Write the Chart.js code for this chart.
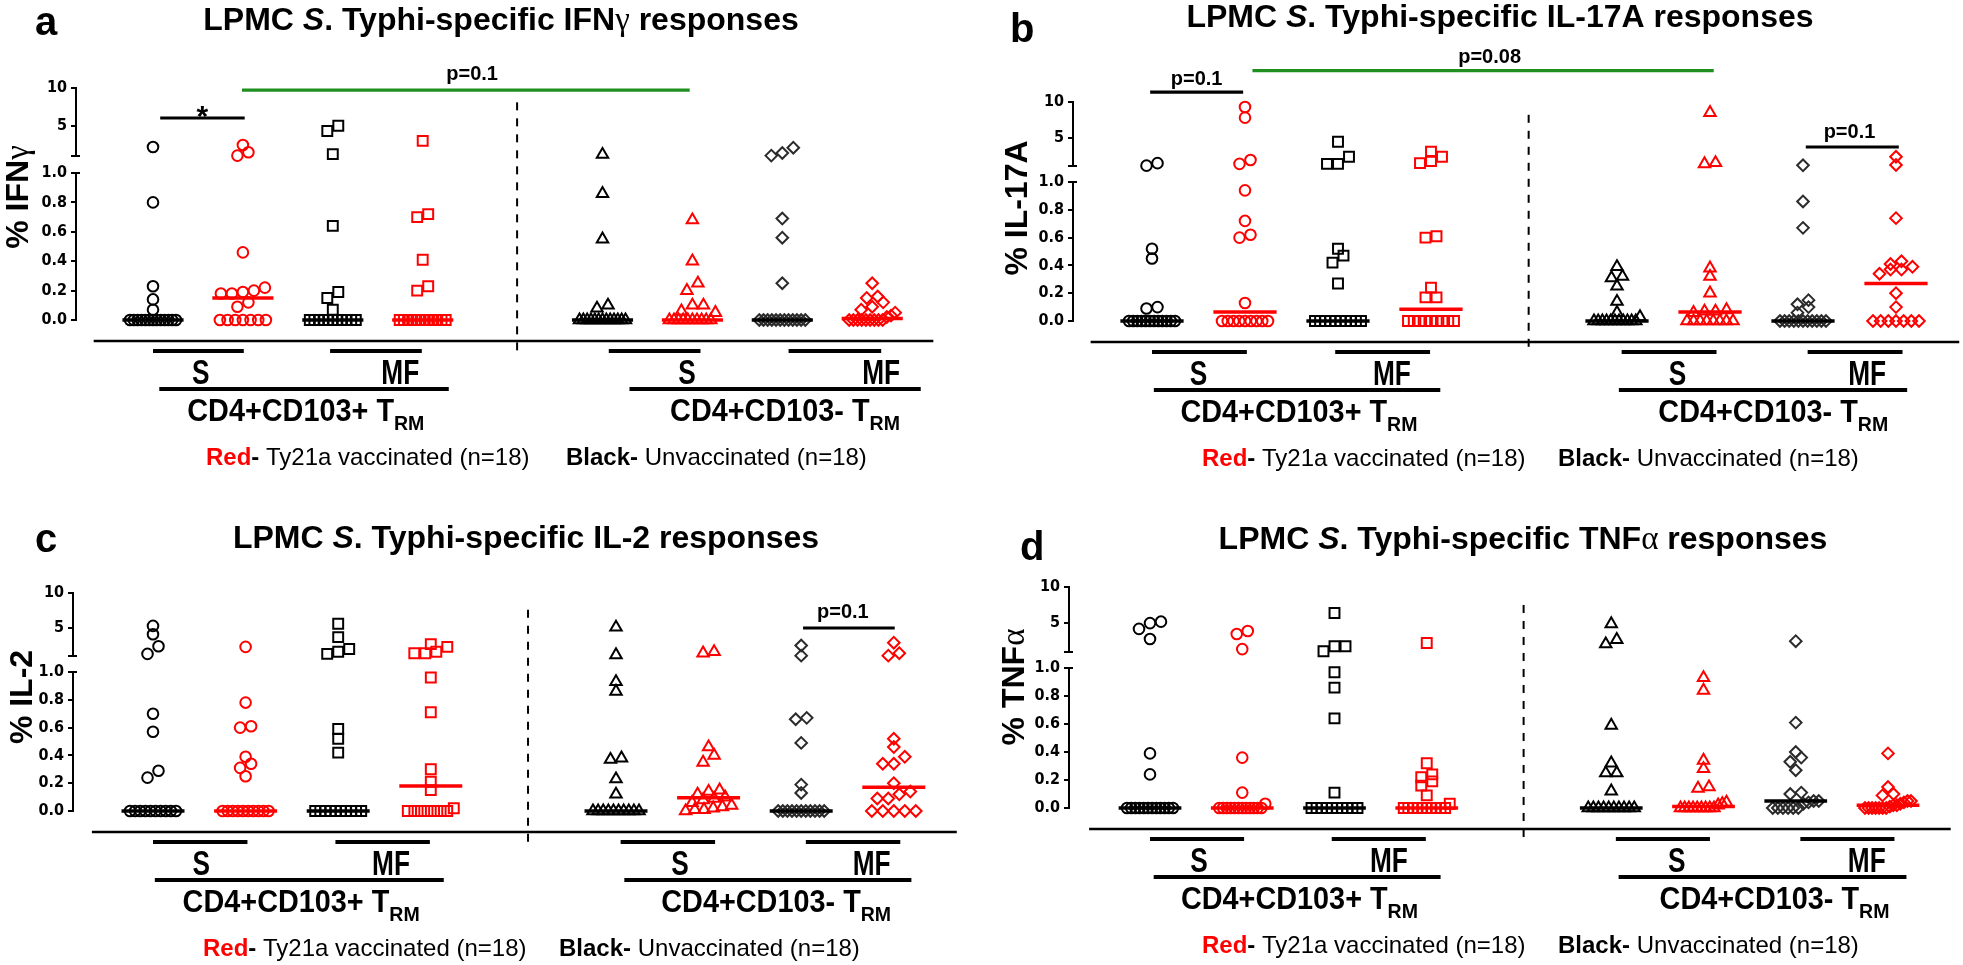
<!DOCTYPE html>
<html>
<head>
<meta charset="utf-8">
<script src="https://cdn.jsdelivr.net/npm/chart.js@4.4.1/dist/chart.umd.min.js"></script>
<style>
  html, body { margin: 0; padding: 0; background: #fff; }
  #fig { position: relative; width: 1963px; height: 965px; overflow: hidden; }
  .panel { position: absolute; }
  canvas { display: block; }
</style>
</head>
<body>
<div id="fig">
  <div class="panel" style="left:0;top:0"><canvas id="cA" width="980" height="480"></canvas></div>
  <div class="panel" style="left:980px;top:0"><canvas id="cB" width="983" height="480"></canvas></div>
  <div class="panel" style="left:0;top:480px"><canvas id="cC" width="980" height="485"></canvas></div>
  <div class="panel" style="left:980px;top:480px"><canvas id="cD" width="983" height="485"></canvas></div>
</div>
<script>
"use strict";

// ---- data: % cytokine+ cells, 18 subjects per group ----
// IFN-gamma
const ifngS103pUnvac  = [2.2, 0.8, 0.23, 0.14, 0.07, 0, 0, 0, 0, 0, 0, 0, 0, 0, 0, 0, 0, 0];
const ifngS103pVac    = [2.45, 1.5, 1.05, 0.46, 0.22, 0.2, 0.19, 0.18, 0.18, 0.12, 0.09, 0, 0, 0, 0, 0, 0, 0];
const ifngMF103pUnvac = [5.0, 4.3, 1.25, 0.64, 0.19, 0.15, 0.07, 0, 0, 0, 0, 0, 0, 0, 0, 0, 0, 0];
const ifngMF103pVac   = [3.0, 0.72, 0.7, 0.41, 0.23, 0.2, 0, 0, 0, 0, 0, 0, 0, 0, 0, 0, 0, 0];
const ifngS103nUnvac  = [1.2, 0.86, 0.55, 0.1, 0.08, 0, 0, 0, 0, 0, 0, 0, 0, 0, 0, 0, 0, 0];
const ifngS103nVac    = [0.68, 0.4, 0.25, 0.2, 0.1, 0.1, 0.06, 0.05, 0, 0, 0, 0, 0, 0, 0, 0, 0, 0];
const ifngMF103nUnvac = [2.1, 1.4, 1.05, 0.69, 0.56, 0.25, 0, 0, 0, 0, 0, 0, 0, 0, 0, 0, 0, 0];
const ifngMF103nVac   = [0.25, 0.16, 0.15, 0.12, 0.09, 0.07, 0.05, 0.03, 0.02, 0, 0, 0, 0, 0, 0, 0, 0, 0];
// IL-17A
const il17S103pUnvac  = [1.4, 1.05, 0.52, 0.45, 0.1, 0.09, 0, 0, 0, 0, 0, 0, 0, 0, 0, 0, 0, 0];
const il17S103pVac    = [9.3, 7.8, 1.85, 1.3, 0.94, 0.72, 0.62, 0.6, 0.13, 0, 0, 0, 0, 0, 0, 0, 0, 0];
const il17MF103pUnvac = [4.4, 2.3, 1.3, 1.3, 0.52, 0.47, 0.42, 0.27, 0, 0, 0, 0, 0, 0, 0, 0, 0, 0];
const il17MF103pVac   = [3.0, 2.3, 1.7, 1.4, 0.61, 0.6, 0.24, 0.17, 0.17, 0, 0, 0, 0, 0, 0, 0, 0, 0];
const il17S103nUnvac  = [0.39, 0.32, 0.31, 0.25, 0.14, 0.06, 0.03, 0, 0, 0, 0, 0, 0, 0, 0, 0, 0, 0];
const il17S103nVac    = [8.5, 1.45, 1.3, 0.38, 0.32, 0.2, 0.08, 0.07, 0.07, 0.06, 0, 0, 0, 0, 0, 0, 0, 0];
const il17MF103nUnvac = [1.1, 0.86, 0.67, 0.15, 0.12, 0.1, 0.06, 0, 0, 0, 0, 0, 0, 0, 0, 0, 0, 0];
const il17MF103nVac   = [2.3, 1.15, 0.74, 0.43, 0.41, 0.39, 0.37, 0.37, 0.34, 0.2, 0.1, 0, 0, 0, 0, 0, 0, 0];
// IL-2
const il2S103pUnvac   = [5.3, 4.1, 2.4, 1.3, 0.7, 0.57, 0.29, 0.24, 0, 0, 0, 0, 0, 0, 0, 0, 0, 0];
const il2S103pVac     = [2.3, 0.78, 0.61, 0.6, 0.39, 0.34, 0.31, 0.25, 0, 0, 0, 0, 0, 0, 0, 0, 0, 0];
const il2MF103pUnvac  = [5.6, 3.7, 2.0, 1.6, 1.3, 0.59, 0.52, 0.42, 0, 0, 0, 0, 0, 0, 0, 0, 0, 0];
const il2MF103pVac    = [2.7, 2.3, 1.6, 1.4, 1.4, 0.96, 0.71, 0.3, 0.21, 0.15, 0.02, 0, 0, 0, 0, 0, 0, 0];
const il2S103nUnvac   = [5.1, 1.15, 0.93, 0.86, 0.38, 0.37, 0.23, 0.12, 0, 0, 0, 0, 0, 0, 0, 0, 0, 0];
const il2S103nVac     = [1.6, 1.4, 0.46, 0.4, 0.35, 0.15, 0.14, 0.12, 0.1, 0.09, 0.08, 0.06, 0.04, 0.03, 0.02, 0.01, 0.01, 0];
const il2MF103nUnvac  = [2.5, 1.05, 0.67, 0.66, 0.49, 0.19, 0.13, 0, 0, 0, 0, 0, 0, 0, 0, 0, 0, 0];
const il2MF103nVac    = [2.9, 1.4, 1.05, 0.52, 0.46, 0.39, 0.34, 0.34, 0.2, 0.14, 0.12, 0.09, 0.09, 0, 0, 0, 0, 0];
// TNF-alpha
const tnfS103pUnvac   = [5.2, 5.0, 4.2, 2.8, 0.39, 0.24, 0, 0, 0, 0, 0, 0, 0, 0, 0, 0, 0, 0];
const tnfS103pVac     = [3.9, 3.5, 1.4, 0.36, 0.11, 0.03, 0, 0, 0, 0, 0, 0, 0, 0, 0, 0, 0, 0];
const tnfMF103pUnvac  = [6.4, 1.8, 1.8, 1.1, 0.97, 0.86, 0.64, 0.11, 0, 0, 0, 0, 0, 0, 0, 0, 0, 0];
const tnfMF103pVac    = [2.25, 0.32, 0.24, 0.22, 0.19, 0.16, 0.09, 0.03, 0, 0, 0, 0, 0, 0, 0, 0, 0, 0];
const tnfS103nUnvac   = [4.9, 2.7, 2.1, 0.59, 0.32, 0.25, 0.25, 0.12, 0, 0, 0, 0, 0, 0, 0, 0, 0, 0];
const tnfS103nVac     = [0.93, 0.84, 0.34, 0.28, 0.15, 0.14, 0.04, 0.03, 0.02, 0, 0, 0, 0, 0, 0, 0, 0, 0];
const tnfMF103nUnvac  = [2.5, 0.61, 0.4, 0.36, 0.33, 0.27, 0.11, 0.1, 0.05, 0.05, 0.04, 0.03, 0, 0, 0, 0, 0, 0];
const tnfMF103nVac    = [0.39, 0.15, 0.1, 0.09, 0.05, 0.05, 0.04, 0.03, 0.02, 0.02, 0.01, 0, 0, 0, 0, 0, 0, 0];

// axis ticks
const upperTicks = [1, 5, 10];
const lowerTicks = [0, 0.2, 0.4, 0.6, 0.8, 1.0];
const subsetLabels = ['S', 'MF', 'S', 'MF'];
const populationLabels = ['CD4+CD103+ T', 'CD4+CD103- T'];

// ---- styling ----
const SANS = '"Liberation Sans", Arial, sans-serif';
const NARROW = '"Liberation Sans Narrow", "Arial Narrow", "DejaVu Sans Condensed", "Liberation Sans", sans-serif';
const SERIF = '"Liberation Serif", "DejaVu Serif", serif';
const RED = '#ff0000', BLACK = '#000000', GREEN = '#1f8f1f';

const groupSlots   = [0, 1, 2, 3, 5, 6, 7, 8];
const markerStyles = ['circle', 'circle', 'rect', 'rect', 'triangle', 'triangle', 'rectRot', 'rectRot'];
const markerRadius = [5.3, 5.3, 7, 7, 6.6, 6.6, 5.8, 5.8];
const groupColors  = [BLACK, RED, BLACK, RED, BLACK, RED, '#2b2b2b', RED];

const defaultBars = [[0, 1.02], [1.97, 2.99], [5.05, 6.07], [7.05, 8.07]];

const panels = [
  {
    canvas: 'cA', letter: 'a', cyto: 'IFN', greek: '\u03b3',
    groups: [ifngS103pUnvac, ifngS103pVac, ifngMF103pUnvac, ifngMF103pVac, ifngS103nUnvac, ifngS103nVac, ifngMF103nUnvac, ifngMF103nVac],
    geo: { w: 980, h: 480, axisX: 76, y10: 88, y1t: 156, y1b: 173, y0: 320, slot0: 153, step: 89.9 },
    title: [501, 30], letterPos: [35, 35], yTitle: [16, 197], legend: [206, 566],
    bars: [[0, 1.01], [1.97, 2.99], [5.07, 6.09], [7.07, 8.1]], subX: [0.53, 2.75, 5.94, 8.1],
    cd4: [[0.07, 3.29], [5.3, 8.54]], cd4X: [1.7, 7.03], dashTop: 8.1,
    sig: [
      { x1: 0.08, x2: 1.02, y: 6.03, color: BLACK, text: '*', tx: 0.55, ty: 5.0, size: 30 },
      { x1: 0.99, x2: 5.97, y: 9.73, color: GREEN, text: 'p=0.1', tx: 3.55, ty: 11.05, size: 20 }
    ]
  },
  {
    canvas: 'cB', letter: 'b', cyto: 'IL-17A', greek: '',
    groups: [il17S103pUnvac, il17S103pVac, il17MF103pUnvac, il17MF103pVac, il17S103nUnvac, il17S103nVac, il17MF103nUnvac, il17MF103nVac],
    geo: { w: 983, h: 480, axisX: 93, y10: 102, y1t: 166, y1b: 182, y0: 321, slot0: 172, step: 93 },
    title: [520, 27], letterPos: [30, 42], yTitle: [35, 208], legend: [222, 578],
    bars: defaultBars, subX: [0.5, 2.58, 5.65, 7.69],
    cd4: [[0.02, 3.1], [5.02, 8.12]], cd4X: [1.58, 6.68], dashTop: 8.2,
    sig: [
      { x1: -0.02, x2: 0.98, y: 11.4, color: BLACK, text: 'p=0.1', tx: 0.48, ty: 12.4, size: 20 },
      { x1: 1.08, x2: 6.04, y: 14.4, color: GREEN, text: 'p=0.08', tx: 3.63, ty: 15.5, size: 20 },
      { x1: 7.03, x2: 8.03, y: 3.67, color: BLACK, text: 'p=0.1', tx: 7.5, ty: 4.94, size: 20 }
    ]
  },
  {
    canvas: 'cC', letter: 'c', cyto: 'IL-2', greek: '',
    groups: [il2S103pUnvac, il2S103pVac, il2MF103pUnvac, il2MF103pVac, il2S103nUnvac, il2S103nVac, il2MF103nUnvac, il2MF103nVac],
    geo: { w: 980, h: 485, axisX: 73, y10: 113, y1t: 176, y1b: 192, y0: 331, slot0: 153, step: 92.6 },
    title: [526, 68], letterPos: [35, 72], yTitle: [20, 217], legend: [203, 559],
    bars: defaultBars, subX: [0.52, 2.57, 5.69, 7.76],
    cd4: [[0.02, 3.14], [5.09, 8.19]], cd4X: [1.6, 6.73], dashTop: 7.6,
    sig: [
      { x1: 7.02, x2: 8.01, y: 5.0, color: BLACK, text: 'p=0.1', tx: 7.45, ty: 6.4, size: 20 }
    ]
  },
  {
    canvas: 'cD', letter: 'd', cyto: 'TNF', greek: '\u03b1',
    groups: [tnfS103pUnvac, tnfS103pVac, tnfMF103pUnvac, tnfMF103pVac, tnfS103nUnvac, tnfS103nVac, tnfMF103nUnvac, tnfMF103nVac],
    geo: { w: 983, h: 485, axisX: 89, y10: 107, y1t: 172, y1b: 188, y0: 328, slot0: 170, step: 92.25 },
    title: [543, 69], letterPos: [40, 80], yTitle: [32, 207], legend: [222, 578],
    bars: defaultBars, subX: [0.53, 2.59, 5.71, 7.77],
    cd4: [[0.04, 3.15], [5.08, 8.2]], cd4X: [1.62, 6.77], dashTop: 7.5,
    sig: []
  }
];

// ---- helpers ----
function median(arr) {
  const s = [...arr].sort((a, b) => a - b);
  const n = s.length;
  return n % 2 ? s[(n - 1) / 2] : (s[n / 2 - 1] + s[n / 2]) / 2;
}

// Prism-like column scatter: points sitting at about the same height get spread sideways
function spreadOffsets(values, geo) {
  const toPx = v => v > 1 ? geo.y1t - (v - 1) * (geo.y1t - geo.y10) / 9 : geo.y0 - v * (geo.y0 - geo.y1b);
  const idx = values.map((v, i) => i).sort((a, b) => values[a] - values[b]);
  const offs = new Array(values.length).fill(0);
  let i = 0;
  while (i < idx.length) {
    const start = toPx(values[idx[i]]);
    let j = i + 1;
    while (j < idx.length && Math.abs(toPx(values[idx[j]]) - start) < 8) j++;
    const k = j - i;
    if (k > 1) {
      const gap = Math.min(11, 46 / (k - 1));
      for (let m = 0; m < k; m++) offs[idx[i + m]] = (m - (k - 1) / 2) * gap / geo.step;
    }
    i = j;
  }
  return offs;
}

function buildDatasets(P) {
  const sets = [];
  P.groups.forEach((vals, g) => {
    const slot = groupSlots[g];
    const offs = spreadOffsets(vals, P.geo);
    const lo = [], hi = [];
    vals.forEach((v, i) => (v > 1 ? hi : lo).push({ x: slot + offs[i], y: v }));
    const base = {
      type: 'scatter', pointStyle: markerStyles[g], pointRadius: markerRadius[g],
      pointHoverRadius: markerRadius[g], borderWidth: 2, borderColor: groupColors[g],
      backgroundColor: 'rgba(0,0,0,0)', clip: false, order: 1
    };
    sets.push(Object.assign({}, base, { data: lo, yAxisID: 'yBot' }));
    sets.push(Object.assign({}, base, { data: hi, yAxisID: 'yTop' }));
    const med = median(vals);
    sets.push({
      type: 'line', data: [{ x: slot - 0.34, y: med }, { x: slot + 0.34, y: med }],
      yAxisID: med > 1 ? 'yTop' : 'yBot', borderColor: groupColors[g] === RED ? RED : BLACK,
      borderWidth: 3.5, pointRadius: 0, clip: false, order: 0
    });
  });
  return sets;
}

// draw a line of mixed-style text; sx squeezes a run horizontally (narrow faces)
function drawRuns(ctx, parts, x, y, align) {
  let total = 0;
  parts.forEach(p => { ctx.font = p.font; total += ctx.measureText(p.text).width * (p.sx || 1); });
  let cx = align === 'center' ? x - total / 2 : (align === 'right' ? x - total : x);
  ctx.textAlign = 'left';
  parts.forEach(p => {
    const sx = p.sx || 1;
    ctx.font = p.font;
    ctx.fillStyle = p.color || BLACK;
    ctx.save();
    ctx.translate(cx, y + (p.dy || 0));
    ctx.scale(sx, 1);
    ctx.fillText(p.text, 0, 0);
    ctx.restore();
    cx += ctx.measureText(p.text).width * sx;
  });
}

function hline(ctx, x1, x2, y, w, color) {
  ctx.beginPath();
  ctx.strokeStyle = color;
  ctx.lineWidth = w;
  ctx.moveTo(x1, y);
  ctx.lineTo(x2, y);
  ctx.stroke();
}

function decorPlugin(P) {
  return {
    id: 'decor' + P.letter,
    afterDraw(chart) {
      const ctx = chart.ctx;
      const X = v => chart.scales.x.getPixelForValue(v);
      const YT = v => chart.scales.yTop.getPixelForValue(v);
      const YB = v => chart.scales.yBot.getPixelForValue(v);
      const L = YB(0) + 21;
      const ax = chart.chartArea.left;
      const bold = s => 'bold ' + s + 'px ' + SANS;
      ctx.save();
      ctx.textBaseline = 'alphabetic';

      // caps at both ends of the axis break
      hline(ctx, ax - 1, ax + 4, YT(1), 2, BLACK);
      hline(ctx, ax - 1, ax + 4, YB(1), 2, BLACK);

      // panel letter and title
      drawRuns(ctx, [{ text: P.letter, font: bold(40) }], P.letterPos[0], P.letterPos[1], 'left');
      const tparts = [
        { text: 'LPMC ', font: bold(32) },
        { text: 'S', font: 'italic bold 32px ' + SANS },
        { text: '. Typhi-specific ' + P.cyto, font: bold(32) }
      ];
      if (P.greek) tparts.push({ text: P.greek, font: '33px ' + SERIF });
      tparts.push({ text: ' responses', font: bold(32) });
      drawRuns(ctx, tparts, P.title[0], P.title[1], 'center');

      // y axis title
      ctx.save();
      ctx.translate(P.yTitle[0], P.yTitle[1]);
      ctx.rotate(-Math.PI / 2);
      const yparts = [{ text: '% ' + P.cyto, font: bold(32) }];
      if (P.greek) yparts.push({ text: P.greek, font: '33px ' + SERIF });
      drawRuns(ctx, yparts, 0, 12, 'center');
      ctx.restore();

      // significance brackets
      P.sig.forEach(s => {
        hline(ctx, X(s.x1), X(s.x2), YT(s.y), 3.2, s.color);
        drawRuns(ctx, [{ text: s.text, font: bold(s.size) }], X(s.tx), YT(s.ty), 'center');
      });

      // dashed separator
      ctx.beginPath();
      ctx.setLineDash([8, 8]);
      ctx.strokeStyle = BLACK;
      ctx.lineWidth = 2;
      ctx.moveTo(X(4.05), YT(P.dashTop));
      ctx.lineTo(X(4.05), L + 11);
      ctx.stroke();
      ctx.setLineDash([]);

      // category axis line and group bars
      hline(ctx, X(-0.66), X(8.68), L, 2.5, BLACK);
      P.bars.forEach(b => hline(ctx, X(b[0]), X(b[1]), L + 10, 4, BLACK));
      P.subX.forEach((sx, i) => drawRuns(ctx, [{ text: subsetLabels[i], font: bold(35), sx: 0.75 }], X(sx), L + 43, 'center'));
      P.cd4.forEach(b => hline(ctx, X(b[0]), X(b[1]), L + 48, 4, BLACK));
      P.cd4X.forEach((cx, i) => drawRuns(ctx, [
        { text: populationLabels[i], font: bold(31), sx: 0.93 },
        { text: 'RM', font: bold(21), sx: 0.93, dy: 9 }
      ], X(cx), L + 80, 'center'));

      // legend text
      drawRuns(ctx, [
        { text: 'Red', font: bold(24), color: RED },
        { text: '- ', font: bold(24) },
        { text: 'Ty21a vaccinated (n=18)', font: '24px ' + SANS }
      ], P.legend[0], L + 124, 'left');
      drawRuns(ctx, [
        { text: 'Black-', font: bold(24) },
        { text: ' Unvaccinated (n=18)', font: '24px ' + SANS }
      ], P.legend[1], L + 124, 'left');

      ctx.restore();
    }
  };
}

function yScale(weight, extra) {
  return Object.assign({
    type: 'linear', position: 'left', stack: 'brk', stackWeight: weight,
    afterFit: s => { s.width = 40; },
    ticks: { color: BLACK, font: { family: NARROW, size: 16, weight: 'bold' }, padding: 4, autoSkip: false },
    grid: { drawOnChartArea: false, drawTicks: true, tickLength: 5, color: BLACK, lineWidth: 2 },
    border: { display: true, color: BLACK, width: 2 }
  }, extra);
}

function makeChart(P) {
  const g = P.geo;
  const xmin = (g.axisX - g.slot0) / g.step;
  const rightPx = g.w - 12;
  const xmax = xmin + (rightPx - g.axisX) / g.step;
  const pad = { left: g.axisX - 40, top: g.y10, right: g.w - rightPx, bottom: g.h - g.y0 };

  const chart = new Chart(document.getElementById(P.canvas), {
    data: { datasets: buildDatasets(P) },
    options: {
      responsive: false,
      animation: false,
      events: [],
      layout: { padding: Object.assign({}, pad) },
      plugins: { legend: { display: false }, tooltip: { enabled: false }, title: { display: false } },
      scales: {
        x: { type: 'linear', display: false, min: xmin, max: xmax },
        yTop: yScale(g.y1t - g.y10, {
          weight: 3, min: 1, max: 10,
          afterBuildTicks: s => { s.ticks = upperTicks.map(v => ({ value: v })); },
          ticks: { color: BLACK, font: { family: NARROW, size: 16, weight: 'bold' }, padding: 4, autoSkip: false,
                   callback: v => (v === 1 ? '' : String(v)) }
        }),
        yGap: yScale(g.y1b - g.y1t, {
          weight: 2, min: 0, max: 1,
          ticks: { display: false }, grid: { display: false }, border: { display: false }
        }),
        yBot: yScale(g.y0 - g.y1b, {
          weight: 1, min: 0, max: 1,
          afterBuildTicks: s => { s.ticks = lowerTicks.map(v => ({ value: v })); },
          ticks: { color: BLACK, font: { family: NARROW, size: 16, weight: 'bold' }, padding: 4, autoSkip: false,
                   callback: v => v.toFixed(1) }
        })
      }
    },
    plugins: [decorPlugin(P)]
  });

  // pull the plot area onto the measured frame of the original
  const ca = chart.chartArea;
  chart.options.layout.padding = {
    left: pad.left + (g.axisX - ca.left),
    top: pad.top + (g.y10 - ca.top),
    right: pad.right + (ca.right - rightPx),
    bottom: pad.bottom + (ca.bottom - g.y0)
  };
  chart.update('none');
  return chart;
}

panels.forEach(makeChart);
</script>
</body>
</html>
